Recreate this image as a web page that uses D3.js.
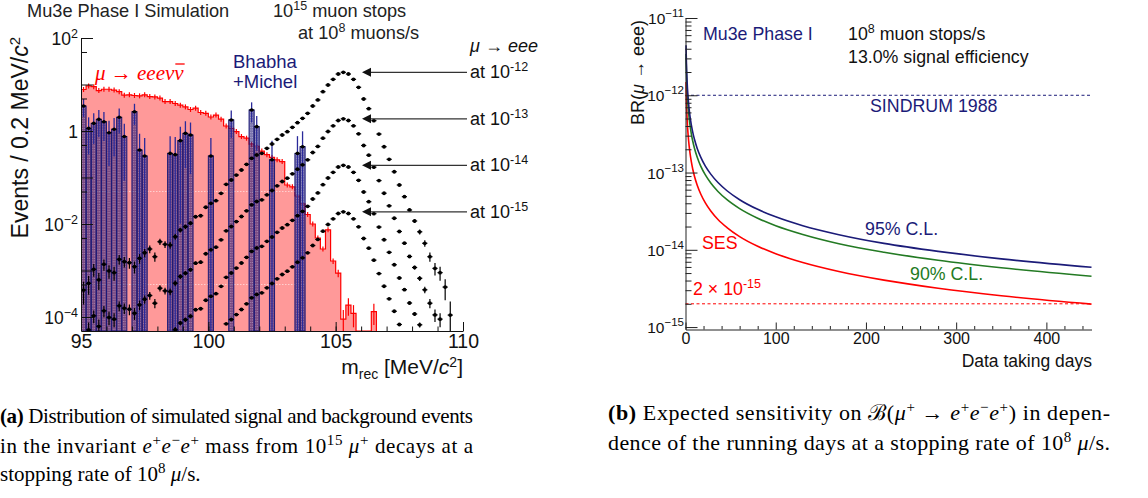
<!DOCTYPE html>
<html>
<head>
<meta charset="utf-8">
<script src="https://cdn.jsdelivr.net/npm/d3@7"></script>
<style>
  body { margin: 0; background: #fff; }
  svg { display: block; font-family: "Liberation Sans", Arial, sans-serif; }
</style>
</head>
<body>
<svg id="fig" width="1148" height="498"></svg>
<script>
// ---------- (a) invariant mass histograms, 0.2 MeV bins starting at 95 MeV ----------
const binLow = 95;
const binWidth = 0.2;
const massTicks = [95, 100, 105, 110];

// mu -> eee nu nubar (red, filled)
const radiativeBg = [7.8, 9.3, 9.0, 7.4, 7.9, 7.9, 7.6, 7.0, 5.9, 6.0, 5.8, 5.7, 6.0, 5.5, 5.4, 5.1, 4.3, 4.3, 3.9,
  3.6, 3.3, 2.9, 3.1, 2.5, 2.4, 2.0, 2.2, 1.8, 1.28, 1.14, 0.97, 0.76, 0.70, 0.52, 0.47, 0.37, 0.31, 0.27, 0.24, 0.22,
  0.069, 0.063, 0.040, 0.027, 0.016, 0.010, 0.0050, 0.0029, 0.0075, 0.0016, 0.00088, 0.00009, 0.00018, 0.00012, 0, 0, 0, 0.00013];

// Bhabha + Michel (blue bars)
const bhabhaMichel = [3.45, 1.14, 1.46, 1.78, 1.58, 0.92, 1.09, 1.97, 0.76, 0, 2.6, 0.39, 0.29, 0, 0, 0, 0, 0.33, 0.31,
  0.62, 0.89, 0.82, 0, 0, 0, 0.29, 0, 0, 0, 1.73, 0, 0, 0, 2.83, 1.24, 0, 0, 0.24, 0, 0, 0, 0, 0.33, 0.46];

// signal mu -> eee expected events for BR = 1e-12
const signalShape = [3.8e-4, 5.3e-4, 1.06e-3, 6.3e-4, 1.36e-3, 9.8e-4, 9.0e-4, 1.74e-3, 1.55e-3, 1.47e-3, 1.21e-3,
  1.83e-3, 2.41e-3, 2.9e-3, 1.98e-3, 4.16e-3, 3.66e-3, 3.53e-3, 5.33e-3,
  7.43e-3, 8.75e-3, 0.0104, 0.0144, 0.0151, 0.0229, 0.0279, 0.0317, 0.0457, 0.0714, 0.0883, 0.113, 0.145, 0.192,
  0.259, 0.305, 0.331, 0.425, 0.525,
  0.663, 0.821, 0.966, 1.20, 1.51, 1.87, 2.40, 3.45, 4.65, 7.0, 9.75, 12.9, 16.8, 18.3, 16.8, 12.9, 8.7, 4.88, 3.02,
  1.67, 0.86, 0.459, 0.246, 0.133, 0.069, 0.0387, 0.020, 0.0116, 6.8e-3, 3.85e-3, 1.98e-3, 1.11e-3, 9.0e-4, 4.4e-4,
  1.1e-4, 0, 0];
const brExponents = ['-12', '-13', '-14', '-15'];
const brScale = [1, 0.1, 0.01, 0.001];

// MC event weights (for the statistical error bars)
const redWeight = 3e-5;
const blueWeight = 0.6;
const signalWeight = 1e-4;

// ---------- (b) sensitivity vs running days ----------
const days = [0.6, 0.8, 1, 1.3, 1.7, 2.2, 3, 4, 5, 6.5, 8, 10, 13, 17, 22, 28, 36, 46, 60, 80, 100, 130, 170, 220, 280, 350, 450];
const ses = [1.484e-12, 1.113e-12, 8.90e-13, 6.85e-13, 5.24e-13, 4.05e-13, 2.97e-13, 2.23e-13, 1.78e-13, 1.37e-13,
  1.11e-13, 8.90e-14, 6.85e-14, 5.24e-14, 4.05e-14, 3.18e-14, 2.47e-14, 1.94e-14, 1.48e-14, 1.11e-14, 8.90e-15,
  6.85e-15, 5.24e-15, 4.05e-15, 3.18e-15, 2.54e-15, 1.98e-15];
const cl90 = [3.41e-12, 2.56e-12, 2.05e-12, 1.58e-12, 1.20e-12, 9.31e-13, 6.83e-13, 5.12e-13, 4.10e-13, 3.15e-13,
  2.56e-13, 2.05e-13, 1.58e-13, 1.20e-13, 9.31e-14, 7.31e-14, 5.69e-14, 4.45e-14, 3.41e-14, 2.56e-14, 2.05e-14,
  1.58e-14, 1.20e-14, 9.31e-15, 7.31e-15, 5.85e-15, 4.55e-15];
const cl95 = [4.45e-12, 3.34e-12, 2.67e-12, 2.05e-12, 1.57e-12, 1.21e-12, 8.90e-13, 6.68e-13, 5.34e-13, 4.11e-13,
  3.34e-13, 2.67e-13, 2.05e-13, 1.57e-13, 1.21e-13, 9.54e-14, 7.42e-14, 5.81e-14, 4.45e-14, 3.34e-14, 2.67e-14,
  2.05e-14, 1.57e-14, 1.21e-14, 9.54e-15, 7.63e-15, 5.94e-15];
const sindrumLimit = 1e-12;
const sesTarget = 2e-15;
const dayTicks = [0, 100, 200, 300, 400];
const brTicks = [1e-11, 1e-12, 1e-13, 1e-14, 1e-15];

const navy = '#1b1b78';
const green = '#237a23';
const red = '#ff0000';
const serif = '"Liberation Serif", "Times New Roman", serif';

const svg = d3.select('#fig');
svg.append('rect').attr('width', 1148).attr('height', 498).attr('fill', '#fff');

// text with sub/superscript pieces
function addText(g, x, y, parts, attrs) {
  const t = g.append('text').attr('x', x).attr('y', y);
  Object.entries(attrs || {}).forEach(([k, v]) => t.attr(k, v));
  let shift = 0;
  parts.forEach(p => {
    if (typeof p === 'string') p = { t: p };
    const span = t.append('tspan').text(p.t);
    const target = p.sup ? -p.sup : (p.sub ? p.sub : 0);
    if (target !== shift) { span.attr('dy', target - shift); shift = target; }
    if (p.size) span.attr('font-size', p.size);
    if (p.i) span.attr('font-style', 'italic');
    if (p.b) span.attr('font-weight', 'bold');
    if (p.font) span.attr('font-family', p.font);
  });
  return t;
}

// ================= LEFT PANEL =================
const xL = d3.scaleLinear().domain([95, 110]).range([81, 463]);
const yL = d3.scaleLog().domain([5e-5, 100]).range([331, 38]);
const yBottom = yL.range()[0];
const binEdge = i => binLow + binWidth * i;
const yClamp = v => v > yL.domain()[0] ? yL(v) : yBottom;

const left = svg.append('g');
left.append('clipPath').attr('id', 'clipL').append('rect')
  .attr('x', xL.range()[0]).attr('y', yL.range()[1])
  .attr('width', xL.range()[1] - xL.range()[0]).attr('height', yBottom - yL.range()[1]);
const plotL = left.append('g').attr('clip-path', 'url(#clipL)');

// red histogram
const redPts = [[xL(binLow), yBottom]];
radiativeBg.forEach((v, i) => {
  const y = yClamp(v);
  redPts.push([xL(binEdge(i)), y], [xL(binEdge(i + 1)), y]);
});
redPts.push([xL(binEdge(radiativeBg.length)), yBottom]);
plotL.append('path').attr('d', d3.line()(redPts)).attr('fill', '#ff9999');
plotL.append('path').attr('d', d3.line()(redPts)).attr('fill', 'none')
  .attr('stroke', red).attr('stroke-width', 1.2);

radiativeBg.forEach((v, i) => {
  if (v <= 0) return;
  const e = Math.sqrt(v * redWeight);
  const cx = xL(binEdge(i) + binWidth / 2);
  const y0 = Math.min(yL(v + e), yL(v) - 2.5), y1 = Math.max(yClamp(v - e), yL(v) + 2.5);
  plotL.append('line').attr('x1', cx).attr('x2', cx).attr('y1', y0).attr('y2', y1)
    .attr('stroke', red).attr('stroke-width', 1.2);
});

// faint dotted artefact lines through the blue region
[0.05, 5e-4].forEach(v => {
  plotL.append('line').attr('x1', xL(binLow)).attr('x2', xL(binEdge(bhabhaMichel.length)))
    .attr('y1', yL(v)).attr('y2', yL(v))
    .attr('stroke', '#fff').attr('stroke-opacity', 0.55).attr('stroke-dasharray', '1.5,1.5');
});

// Bhabha + Michel bars
const bw = xL(binEdge(1)) - xL(binEdge(0));
bhabhaMichel.forEach((v, i) => {
  if (v <= 0) return;
  const x0 = xL(binEdge(i)), y = yL(v);
  plotL.append('rect').attr('x', x0).attr('y', y).attr('width', bw).attr('height', yBottom - y)
    .attr('fill', 'rgb(25,15,115)').attr('fill-opacity', 0.58)
    .attr('stroke', navy).attr('stroke-width', 1);
  [0.33, 0.66].forEach(f => {
    plotL.append('line').attr('x1', x0 + bw * f).attr('x2', x0 + bw * f).attr('y1', y + 2).attr('y2', yBottom)
      .attr('stroke', '#fff').attr('stroke-opacity', 0.35).attr('stroke-dasharray', '1,1.5');
  });
});
bhabhaMichel.forEach((v, i) => {
  if (v <= 0) return;
  const e = Math.sqrt(v * blueWeight);
  const cx = xL(binEdge(i) + binWidth / 2);
  plotL.append('line').attr('x1', cx).attr('x2', cx).attr('y1', yL(v + e)).attr('y2', yClamp(v - e))
    .attr('stroke', '#2a2a9a').attr('stroke-width', 1.3);
  plotL.append('line').attr('x1', cx - 2.5).attr('x2', cx + 2.5).attr('y1', yL(v)).attr('y2', yL(v))
    .attr('stroke', '#000').attr('stroke-width', 1.2);
  plotL.append('circle').attr('cx', cx).attr('cy', yL(v)).attr('r', 1.8).attr('fill', '#000');
});

// signal points for each branching ratio
brScale.forEach(s => {
  signalShape.forEach((v0, i) => {
    const v = v0 * s;
    if (v <= yL.domain()[0]) return;
    const e = Math.sqrt(v0 * signalWeight) * s;
    const cx = xL(binEdge(i) + binWidth / 2);
    const cy = yL(v);
    plotL.append('line').attr('x1', cx).attr('x2', cx).attr('y1', yL(v + e)).attr('y2', yClamp(v - e))
      .attr('stroke', '#000').attr('stroke-width', 1.2);
    plotL.append('line').attr('x1', cx - 2.6).attr('x2', cx + 2.6).attr('y1', cy).attr('y2', cy)
      .attr('stroke', '#000').attr('stroke-width', 1.2);
    plotL.append('circle').attr('cx', cx).attr('cy', cy).attr('r', 1.9).attr('fill', '#000');
  });
});

// axes
const axL = left.append('g').attr('transform', `translate(0,${yBottom})`)
  .call(d3.axisBottom(xL).tickValues(massTicks).tickSize(-9).tickSizeOuter(0).tickPadding(3));
axL.selectAll('text').attr('font-size', 19.5).attr('fill', '#111').attr('font-family', '"Liberation Sans", Arial, sans-serif');
left.append('g').attr('transform', `translate(0,${yBottom})`)
  .call(d3.axisBottom(xL).tickValues(d3.range(96, 110)).tickSize(-4.5).tickFormat(''))
  .select('.domain').remove();

const decadesL = [1e-4, 1e-3, 1e-2, 1e-1, 1, 10, 100];
const fivesL = [5e-4, 5e-3, 5e-2, 0.5, 5, 50];
left.append('g').attr('transform', `translate(${xL.range()[0]},0)`)
  .call(d3.axisLeft(yL).tickValues(decadesL).tickSize(-12).tickSizeOuter(0).tickFormat(''));
left.append('g').attr('transform', `translate(${xL.range()[0]},0)`)
  .call(d3.axisLeft(yL).tickValues(fivesL).tickSize(-6).tickFormat(''))
  .select('.domain').remove();
left.selectAll('.domain, .tick line').attr('stroke', '#111');

const yLabelsL = [[100, '2'], [1, null], [1e-2, '−2'], [1e-4, '−4']];
yLabelsL.forEach(([v, ex]) => {
  const parts = ex ? ['10', { t: ex, sup: 7, size: 12.5 }] : ['1'];
  addText(left, 78, yL(v) + 7, parts, { 'text-anchor': 'end', 'font-size': 17.5, fill: '#111' });
});

// axis titles
addText(left, 0, 0, ['Events / 0.2 MeV/', { t: 'c', i: true }, { t: '2', sup: 8, size: 15 }],
  { 'font-size': 23, 'text-anchor': 'end', fill: '#111', transform: 'translate(28,37) rotate(-90)' });
addText(left, 463, 374, ['m', { t: 'rec', sub: 5, size: 14 }, ' [MeV/', { t: 'c', i: true }, { t: '2', sup: 7, size: 14 }, ']'],
  { 'font-size': 21, 'text-anchor': 'end', fill: '#111' });

// annotations
addText(left, 27, 17, ['Mu3e Phase I Simulation'], { 'font-size': 18.2, fill: '#222' });
addText(left, 273, 17, ['10', { t: '15', sup: 7, size: 12.5 }, ' muon stops'], { 'font-size': 18.2, fill: '#222' });
addText(left, 298, 39, ['at 10', { t: '8', sup: 7, size: 12.5 }, ' muons/s'], { 'font-size': 18.2, fill: '#222' });
addText(left, 233, 68, ['Bhabha'], { 'font-size': 18.5, fill: navy });
addText(left, 233, 88, ['+Michel'], { 'font-size': 18.5, fill: navy });

const redLabel = addText(left, 95, 80,
  [{ t: 'μ', i: true }, '  →  ', { t: 'eeeνν', i: true }],
  { 'font-size': 21, fill: red, 'font-family': serif });
{
  const node = redLabel.node();
  const n = node.getNumberOfChars();
  const s = node.getStartPositionOfChar(n - 1), e = node.getEndPositionOfChar(n - 1);
  left.append('line').attr('x1', s.x + 1).attr('x2', e.x + 1).attr('y1', 64).attr('y2', 64)
    .attr('stroke', red).attr('stroke-width', 1.3);
}

addText(left, 470, 52, [{ t: 'μ', i: true }, ' → ', { t: 'eee', i: true }], { 'font-size': 18, fill: '#111' });
const peak = d3.max(signalShape);
brScale.forEach((s, k) => {
  const ay = yL(peak * s);
  left.append('line').attr('x1', 370).attr('x2', 467).attr('y1', ay).attr('y2', ay)
    .attr('stroke', '#333').attr('stroke-width', 1.2);
  left.append('path').attr('d', `M362,${ay}L371,${ay - 4.5}L371,${ay + 4.5}Z`).attr('fill', '#111');
  addText(left, 470, ay + 6, ['at 10', { t: brExponents[k], sup: 7, size: 12.5 }], { 'font-size': 18, fill: '#111' });
});

// ================= RIGHT PANEL =================
const xR = d3.scaleLinear().domain([0, 450]).range([685.5, 1091.5]);
const yR = d3.scaleLog().domain([9.3e-16, 1e-11]).range([329.5, 18]);
const right = svg.append('g');

right.append('line').attr('x1', xR(0)).attr('x2', xR(450)).attr('y1', yR(sindrumLimit)).attr('y2', yR(sindrumLimit))
  .attr('stroke', navy).attr('stroke-width', 1).attr('stroke-dasharray', '3,2.5');
right.append('line').attr('x1', xR(0)).attr('x2', xR(450)).attr('y1', yR(sesTarget)).attr('y2', yR(sesTarget))
  .attr('stroke', red).attr('stroke-width', 1).attr('stroke-dasharray', '3,2.5');

const curve = d3.line().x(d => xR(d[0])).y(d => yR(d[1])).curve(d3.curveMonotoneX);
[[ses, red], [cl90, green], [cl95, navy]].forEach(([vals, col]) => {
  right.append('path').attr('d', curve(d3.zip(days, vals))).attr('fill', 'none')
    .attr('stroke', col).attr('stroke-width', 1.6);
});

const axR = right.append('g').attr('transform', `translate(0,${yR.range()[0]})`)
  .call(d3.axisBottom(xR).tickValues(dayTicks).tickSize(-7).tickSizeOuter(0).tickPadding(3));
axR.selectAll('text').attr('font-size', 16).attr('fill', '#111').attr('font-family', '"Liberation Sans", Arial, sans-serif');
right.append('g').attr('transform', `translate(0,${yR.range()[0]})`)
  .call(d3.axisBottom(xR).tickValues(d3.range(20, 450, 20).filter(d => d % 100)).tickSize(-3.5).tickFormat(''))
  .select('.domain').remove();

const minorR = [];
[1e-16, 1e-15, 1e-14, 1e-13, 1e-12].forEach(d => d3.range(2, 10).forEach(m => {
  const v = d * m;
  if (v > yR.domain()[0] && v < yR.domain()[1]) minorR.push(v);
}));
right.append('g').attr('transform', `translate(${xR(0)},0)`)
  .call(d3.axisLeft(yR).tickValues(brTicks).tickSize(-12).tickSizeOuter(0).tickFormat(''));
right.append('g').attr('transform', `translate(${xR(0)},0)`)
  .call(d3.axisLeft(yR).tickValues(minorR).tickSize(-6).tickFormat(''))
  .select('.domain').remove();
right.selectAll('.domain, .tick line').attr('stroke', '#222');

brTicks.forEach(v => {
  const ex = '−' + Math.round(-Math.log10(v));
  addText(right, 684, yR(v) + 6, ['10', { t: ex, sup: 7, size: 11.5 }],
    { 'text-anchor': 'end', 'font-size': 15.5, fill: '#111' });
});

addText(right, 0, 0, ['BR(', { t: 'μ', i: true }, ' → eee)'],
  { 'font-size': 18, 'text-anchor': 'end', fill: '#111', transform: 'translate(644,20) rotate(-90)' });
addText(right, 1092, 367, ['Data taking days'], { 'font-size': 17.5, 'text-anchor': 'end', fill: '#111' });

addText(right, 703, 40, ['Mu3e Phase I'], { 'font-size': 17.8, fill: navy });
addText(right, 848, 40, ['10', { t: '8', sup: 7, size: 12.5 }, ' muon stops/s'], { 'font-size': 17.8, fill: '#111' });
addText(right, 848, 63, ['13.0% signal efficiency'], { 'font-size': 17.8, fill: '#111' });
addText(right, 870, 112, ['SINDRUM 1988'], { 'font-size': 17.8, fill: navy });
addText(right, 865, 235, ['95% C.L.'], { 'font-size': 17.8, fill: navy });
addText(right, 910, 280, ['90% C.L.'], { 'font-size': 17.8, fill: green });
addText(right, 702, 249, ['SES'], { 'font-size': 17.8, fill: red });
addText(right, 693, 295, ['2 × 10', { t: '-15', sup: 7, size: 12.5 }], { 'font-size': 17.8, fill: red });

// ================= CAPTIONS =================
const capAttrs = (w, fs) => ({ 'font-family': serif, 'font-size': fs, fill: '#000', textLength: w, lengthAdjust: 'spacing' });
const sp = (t) => ({ t, sup: 8, size: 15 });
addText(svg, 0, 423, [{ t: '(a)', b: true }, ' Distribution of simulated signal and background events'], capAttrs(473, 21));
addText(svg, 0, 453, ['in the invariant ', { t: 'e', i: true }, sp('+'), { t: 'e', i: true }, sp('−'), { t: 'e', i: true }, sp('+'),
  ' mass from 10', sp('15'), ' ', { t: 'μ', i: true }, sp('+'), ' decays at a'], capAttrs(473, 21));
addText(svg, 0, 481, ['stopping rate of 10', sp('8'), ' ', { t: 'μ', i: true }, '/s.'],
  { 'font-family': serif, 'font-size': 21, fill: '#000' });
addText(svg, 608, 420, [{ t: '(b)', b: true }, ' Expected sensitivity on ℬ(', { t: 'μ', i: true }, sp('+'), ' → ',
  { t: 'e', i: true }, sp('+'), { t: 'e', i: true }, sp('−'), { t: 'e', i: true }, sp('+'), ') in depen-'], capAttrs(502, 22));
addText(svg, 608, 450, ['dence of the running days at a stopping rate of 10', sp('8'), ' ', { t: 'μ', i: true }, '/s.'], capAttrs(502, 22));
</script>
</body>
</html>
